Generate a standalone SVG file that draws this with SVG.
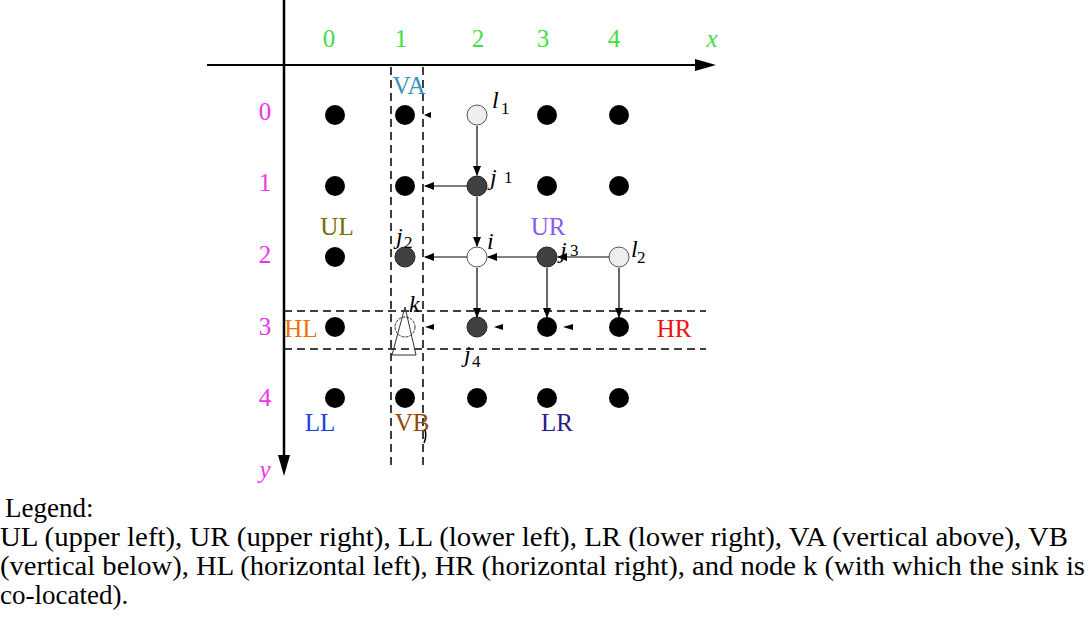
<svg xmlns="http://www.w3.org/2000/svg" width="1088" height="625" viewBox="0 0 1088 625">
<style>
text{font-family:"Liberation Serif","DejaVu Serif","Noto Serif",serif;}
.ax{font-size:25px;fill:#44dd44;}
.ay{font-size:25px;fill:#ee33ee;}
.rl{font-size:25px;}
.it{font-style:italic;font-size:24px;fill:#000;}
.sub{font-size:17px;fill:#000;}
.lg{font-size:27px;fill:#000;}
.blk{fill:#000;}
.dk{fill:#404040;stroke:#222;stroke-width:1;}
.lt{fill:#eeeeee;stroke:#555;stroke-width:1;}
.wh{fill:#fff;stroke:#555;stroke-width:1;}
.dash{stroke:#000;stroke-width:1.5;stroke-dasharray:8,5;fill:none;}
.con{stroke:#000;stroke-width:1.2;fill:none;marker-end:url(#ah);}
</style>
<defs>
<marker id="ah" markerWidth="10" markerHeight="8" refX="9" refY="4" orient="auto" markerUnits="userSpaceOnUse">
<path d="M0,0 L10,4 L0,8 z" fill="#000"/>
</marker>
</defs>
<rect width="1088" height="625" fill="#fff"/>
<g id="axes">
<line x1="284" y1="0" x2="284" y2="458" stroke="#000" stroke-width="2.5"/>
<polygon points="278,455 290,455 284,476" fill="#000"/>
<line x1="207" y1="65" x2="698" y2="65" stroke="#000" stroke-width="2"/>
<polygon points="695,59 695,71 716,65" fill="#000"/>
<text class="ax" x="329" y="47" text-anchor="middle">0</text>
<text class="ax" x="401" y="47" text-anchor="middle">1</text>
<text class="ax" x="478" y="47" text-anchor="middle">2</text>
<text class="ax" x="543" y="47" text-anchor="middle">3</text>
<text class="ax" x="614" y="47" text-anchor="middle">4</text>
<text class="ax" x="712" y="47" text-anchor="middle" font-style="italic">x</text>
<text class="ay" x="265" y="120" text-anchor="middle">0</text>
<text class="ay" x="265" y="191" text-anchor="middle">1</text>
<text class="ay" x="265" y="263" text-anchor="middle">2</text>
<text class="ay" x="265" y="335" text-anchor="middle">3</text>
<text class="ay" x="265" y="406" text-anchor="middle">4</text>
<text class="ay" x="265" y="478" text-anchor="middle" font-style="italic">y</text>
</g>
<g id="regions">
<line class="dash" x1="391" y1="67" x2="391" y2="468"/>
<line class="dash" x1="423" y1="67" x2="423" y2="468"/>
<line class="dash" x1="284" y1="311" x2="706" y2="311"/>
<line class="dash" x1="284" y1="349" x2="706" y2="349"/>
<text class="rl" x="409" y="94" text-anchor="middle" fill="#3a8fc0">VA</text>
<text class="rl" x="337" y="235" text-anchor="middle" fill="#7a6a00">UL</text>
<text class="rl" x="548" y="235" text-anchor="middle" fill="#8a5cf5">UR</text>
<text class="rl" x="301" y="337" text-anchor="middle" fill="#f07010">HL</text>
<text class="rl" x="674" y="337" text-anchor="middle" fill="#ee1111">HR</text>
<text class="rl" x="320" y="431" text-anchor="middle" fill="#2040e0">LL</text>
<text class="rl" x="412" y="431" text-anchor="middle" fill="#904a10">VB</text>
<text class="rl" x="557" y="431" text-anchor="middle" fill="#301a80">LR</text>
</g>
<g id="nodes">
<circle class="blk" cx="335" cy="115" r="10"/>
<circle class="blk" cx="405" cy="115" r="10"/>
<circle class="blk" cx="547" cy="115" r="10"/>
<circle class="blk" cx="619" cy="115" r="10"/>
<circle class="blk" cx="335" cy="186" r="10"/>
<circle class="blk" cx="405" cy="186" r="10"/>
<circle class="blk" cx="547" cy="186" r="10"/>
<circle class="blk" cx="619" cy="186" r="10"/>
<circle class="blk" cx="335" cy="257" r="10"/>
<circle class="blk" cx="335" cy="327" r="10"/>
<circle class="blk" cx="547" cy="327" r="10"/>
<circle class="blk" cx="619" cy="327" r="10"/>
<circle class="blk" cx="335" cy="398" r="10"/>
<circle class="blk" cx="405" cy="398" r="10"/>
<circle class="blk" cx="477" cy="398" r="10"/>
<circle class="blk" cx="547" cy="398" r="10"/>
<circle class="blk" cx="619" cy="398" r="10"/>
</g>
<g id="node-l1">
<circle class="lt" cx="477" cy="115" r="10"/>
<text class="it" x="492" y="108">l</text><text class="sub" x="501" y="114">1</text>
</g>
<g id="node-j1">
<circle class="dk" cx="477" cy="186" r="10"/>
<text class="it" x="490" y="185">j</text><text class="sub" x="504" y="183">1</text>
</g>
<g id="node-i">
<circle class="wh" cx="477" cy="257" r="10"/>
<text class="it" x="487" y="249">i</text>
</g>
<g id="node-j2">
<circle class="dk" cx="405" cy="257" r="10"/>
<text class="it" x="396" y="244">j</text><text class="sub" x="404" y="248">2</text>
</g>
<g id="node-j3">
<circle class="dk" cx="547" cy="257" r="10"/>
<text class="it" x="560" y="258">j</text><text class="sub" x="570" y="256">3</text>
</g>
<g id="node-l2">
<circle class="lt" cx="619" cy="257" r="10"/>
<text class="it" x="631" y="257">l</text><text class="sub" x="637" y="263">2</text>
</g>
<g id="node-k">
<circle cx="405" cy="327" r="10" fill="none" stroke="#333" stroke-width="1" stroke-dasharray="3,1"/>
<polygon points="405,307 392,355 416,355" fill="none" stroke="#333" stroke-width="1"/>
<text class="it" x="409" y="312">k</text>
</g>
<g id="node-j4">
<circle class="dk" cx="477" cy="327" r="10"/>
<text class="it" x="464" y="362">j</text><text class="sub" x="472" y="367">4</text>
</g>
<g id="connectors">
<line class="con" x1="477" y1="126" x2="477" y2="175"/>
<line class="con" x1="467" y1="186" x2="425" y2="186"/>
<line class="con" x1="477" y1="197" x2="477" y2="246"/>
<line class="con" x1="467" y1="257" x2="425" y2="257"/>
<line class="con" x1="537" y1="257" x2="488" y2="257"/>
<line class="con" x1="609" y1="257" x2="558" y2="257"/>
<line class="con" x1="477" y1="268" x2="477" y2="317"/>
<line class="con" x1="547" y1="268" x2="547" y2="317"/>
<line class="con" x1="619" y1="268" x2="619" y2="317"/>
<polygon points="424,115 431,112 431,118" fill="#000"/>
<polygon points="425,327 434,324 434,330" fill="#000"/>
<polygon points="494,327 503,324 503,330" fill="#000"/>
<polygon points="563,327 573,324 573,330" fill="#000"/>
<path d="M425,430 Q427,436 424,443" stroke="#000" stroke-width="1.5" fill="none"/>
</g>
<g id="legend">
<text class="lg" x="5" y="517">Legend:</text>
<text class="lg" x="0" y="546" textLength="1068" lengthAdjust="spacingAndGlyphs">UL (upper left), UR (upper right), LL (lower left), LR (lower right), VA (vertical above), VB</text>
<text class="lg" x="0" y="575" textLength="1085" lengthAdjust="spacingAndGlyphs">(vertical below), HL (horizontal left), HR (horizontal right), and node k (with which the sink is</text>
<text class="lg" x="0" y="604">co-located).</text>
</g>
</svg>
